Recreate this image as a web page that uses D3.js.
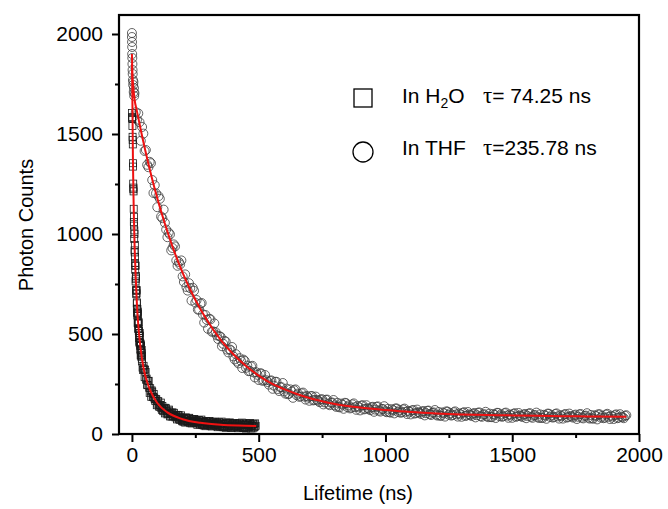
<!DOCTYPE html>
<html>
<head>
<meta charset="utf-8">
<script src="https://cdn.jsdelivr.net/npm/d3@7"></script>
<style>
  html, body { margin: 0; padding: 0; background: #fff; }
  svg text { font-family: "Liberation Sans", Arial, sans-serif; fill: #000; }
</style>
</head>
<body>
<svg id="chart" width="668" height="509"></svg>
<script>
/* Fluorescence decay, H2O vs THF */
var xTicks = [0, 500, 1000, 1500, 2000];
var yTicks = [0, 500, 1000, 1500, 2000];

// H2O: 0-40 ns on 1 ns channels (plus the half channels), then every 4 ns (two interleaved sets)
var h2oEarly = [1605, 1585, 1540, 1470, 1354, 1252, 1232, 1126, 1086, 975, 1001, 908, 886, 821, 840, 774, 782, 699, 704, 653,
  658, 593, 606, 612, 552, 526, 554, 514, 516, 461, 505, 457, 456, 422, 452, 416, 443, 386, 403, 376, 392];
var h2oEarlyB = [1580, 1575, 1486, 1448, 1337, 1224, 1213, 1060, 1042, 1018, 918, 945, 855, 844, 763, 790, 722, 715, 720, 627,
  606, 625, 555, 600, 564, 526, 559, 480, 497, 505, 454, 492, 440, 447, 393, 441, 393, 406, 420, 363];
var h2oLate = [320, 324, 322, 271, 245, 265, 231, 229, 186, 212, 186, 182, 165, 174, 152, 164, 135, 145, 129, 140,
  114, 125, 131, 107, 98, 117, 102, 107, 87, 108, 90, 93, 83, 96, 83, 95, 71, 83, 70, 81,
  62, 74, 83, 65, 61, 78, 66, 71, 53, 75, 59, 63, 54, 68, 57, 70, 47, 60, 49, 62,
  43, 56, 65, 48, 44, 62, 50, 56, 38, 61, 45, 50, 41, 56, 45, 59, 36, 50, 40, 52,
  34, 47, 57, 39, 36, 54, 43, 48, 31, 54, 39, 43, 35, 50, 40, 54, 32, 46, 35, 48,
  30, 43, 53, 36, 33, 51, 40, 45, 28, 51, 36, 41];
var h2oMid = [332, 341, 284, 310, 277, 244, 266, 205, 213, 218, 186, 200, 174, 174, 144, 163, 141, 146, 157, 121,
  118, 131, 103, 128, 114, 101, 122, 88, 100, 106, 88, 106, 89, 94, 73, 94, 76, 82, 93, 64,
  63, 78, 57, 81, 73, 63, 81, 54, 65, 72, 56, 75, 59, 65, 46, 68, 51, 58, 72, 44,
  45, 60, 39, 64, 56, 47, 65, 39, 50, 58, 42, 62, 46, 53, 34, 57, 40, 48, 62, 34,
  35, 51, 31, 55, 48, 39, 58, 31, 43, 51, 36, 55, 40, 47, 29, 52, 36, 44, 57, 30,
  31, 47, 27, 52, 45, 36, 55, 28, 40, 48, 33, 53];
var h2oFitT = [0, 1, 2, 3, 4, 6, 8, 11, 15, 20, 26, 33, 45, 60, 75, 100, 140, 200, 270, 350, 420, 490];
var h2oFitC = [1850, 1780, 1650, 1500, 1370, 1200, 1070, 920, 780, 640, 530, 440, 335, 260, 210, 155, 108, 74, 56, 46, 42, 40];

// THF: points near the peak, then every 10 ns from 10 (main) and from 15 (mid)
var thfEarlyT = [0, 0, 0.5, 1, 1, 1.5, 2, 2.5, 3, 4, 5, 6, 7, 8, 9];
var thfEarlyC = [2005, 1985, 1960, 1935, 1900, 1880, 1850, 1820, 1800, 1770, 1745, 1760, 1710, 1730, 1690];
var thfMain = [1704, 1572, 1559, 1535, 1415, 1346, 1361, 1270, 1244, 1134, 1176, 1079, 1056, 984, 998, 930, 938, 841, 848, 788,
  798, 717, 729, 731, 657, 622, 652, 598, 595, 526, 573, 513, 509, 475, 486, 451, 462, 408, 419, 388,
  399, 353, 366, 372, 331, 314, 337, 308, 309, 270, 303, 268, 269, 247, 268, 242, 261, 215, 234, 213,
  227, 201, 212, 219, 194, 186, 203, 187, 190, 166, 190, 170, 171, 159, 174, 158, 172, 144, 157, 143,
  156, 133, 147, 156, 134, 128, 148, 134, 140, 118, 144, 126, 129, 119, 136, 122, 138, 112, 125, 113,
  126, 107, 119, 128, 110, 106, 123, 111, 116, 98, 120, 105, 109, 100, 115, 104, 117, 95, 108, 97,
  110, 91, 104, 113, 96, 92, 109, 98, 103, 86, 109, 93, 98, 90, 105, 94, 108, 86, 99, 89,
  102, 84, 96, 106, 89, 86, 104, 92, 98, 81, 104, 89, 93, 85, 100, 90, 104, 81, 95, 85,
  98, 80, 92, 102, 85, 82, 100, 88, 94, 77, 100, 85, 90, 82, 97, 86, 100, 78, 92, 82,
  95, 77, 90, 99, 82, 79, 97, 86, 92, 75, 98, 82, 87, 79, 94];
var thfMid = [1609, 1603, 1466, 1502, 1420, 1334, 1354, 1205, 1203, 1189, 1087, 1122, 1022, 1007, 918, 948, 868, 860, 868, 760,
  735, 754, 667, 716, 670, 622, 655, 557, 571, 576, 511, 553, 493, 489, 439, 466, 422, 423, 435, 373,
  362, 379, 330, 365, 342, 315, 341, 283, 296, 303, 266, 295, 260, 266, 226, 261, 225, 234, 255, 202,
  199, 223, 181, 223, 202, 188, 207, 172, 182, 189, 168, 187, 166, 172, 148, 171, 150, 157, 170, 136,
  136, 152, 126, 154, 143, 132, 153, 121, 133, 142, 123, 144, 125, 133, 111, 136, 117, 125, 139, 109,
  109, 124, 103, 127, 119, 109, 127, 100, 111, 118, 102, 122, 106, 112, 93, 116, 99, 106, 120, 92,
  92, 108, 87, 112, 104, 95, 113, 87, 98, 106, 90, 110, 95, 101, 83, 106, 89, 97, 111, 84,
  85, 100, 80, 105, 98, 89, 107, 81, 93, 101, 86, 105, 90, 97, 79, 102, 86, 93, 107, 80,
  81, 96, 76, 101, 94, 85, 103, 77, 89, 97, 82, 102, 87, 93, 75, 98, 82, 90, 104, 77,
  78, 94, 73, 98, 91, 82, 101, 75, 87, 94, 79, 99, 84, 91];
var thfFitT = [0, 1, 2, 4, 10, 20, 40, 60, 80, 100, 130, 160, 200, 250, 300, 350, 400, 450, 500, 550, 600, 650, 700,
  750, 800, 850, 900, 1000, 1100, 1200, 1300, 1400, 1500, 1600, 1700, 1800, 1950];
var thfFitC = [1900, 1840, 1790, 1755, 1677, 1612, 1490, 1378, 1274, 1179, 1051, 937, 806, 671, 561, 471, 399, 340, 292, 253, 224, 200, 180,
  164, 150, 140, 132, 120, 110, 103, 98, 95, 93, 91, 89, 88, 86];

(function () {
  var L = 119, R = 639, T = 15, B = 434;
  var svg = d3.select('#chart');

  var x = d3.scaleLinear().domain([-51, 2000]).range([L, R]);
  var y = d3.scaleLinear().domain([0, 2095]).range([B, T]);

  function pairs(ts, cs) { return ts.map(function (t, i) { return [t, cs[i]]; }); }
  function grid(arr, t0, dt) { return arr.map(function (d, i) { return t0 + dt * i; }); }
  var h2oPts = pairs(grid(h2oEarly, 0, 1), h2oEarly)
    .concat(pairs(grid(h2oEarlyB, 0.5, 1), h2oEarlyB))
    .concat(pairs(grid(h2oLate, 44, 4), h2oLate))
    .concat(pairs(grid(h2oMid, 42, 4), h2oMid));
  var thfPts = pairs(thfEarlyT, thfEarlyC)
    .concat(pairs(grid(thfMain, 10, 10), thfMain))
    .concat(pairs(grid(thfMid, 15, 10), thfMid));

  // scatter
  svg.append('g').selectAll('circle').data(thfPts).enter().append('circle')
    .attr('cx', function (d) { return x(d[0]); }).attr('cy', function (d) { return y(d[1]); })
    .attr('r', 4.5).attr('fill', 'none').attr('stroke', '#3c3c3c').attr('stroke-width', 0.8);
  var s = 7;
  svg.append('g').selectAll('rect').data(h2oPts).enter().append('rect')
    .attr('x', function (d) { return x(d[0]) - s / 2; }).attr('y', function (d) { return y(d[1]) - s / 2; })
    .attr('width', s).attr('height', s).attr('fill', 'none').attr('stroke', '#1a1a1a').attr('stroke-width', 0.8);

  // fits
  var line = d3.line().x(function (d) { return x(d[0]); }).y(function (d) { return y(d[1]); }).curve(d3.curveMonotoneX);
  [pairs(thfFitT, thfFitC), pairs(h2oFitT, h2oFitC)].forEach(function (f) {
    svg.append('path').attr('d', line(f)).attr('fill', 'none').attr('stroke', '#ee1111').attr('stroke-width', 2);
  });

  // axes
  svg.append('g').attr('transform', 'translate(0,' + B + ')')
    .call(d3.axisBottom(x).tickValues(xTicks).tickSize(8).tickPadding(5).tickFormat(d3.format('d')));
  svg.append('g').attr('transform', 'translate(0,' + B + ')')
    .call(d3.axisBottom(x).tickValues([250, 750, 1250, 1750]).tickSize(4).tickFormat(''));
  svg.append('g').attr('transform', 'translate(' + L + ',0)')
    .call(d3.axisLeft(y).tickValues(yTicks).tickSize(7).tickPadding(9).tickFormat(d3.format('d')));
  svg.append('g').attr('transform', 'translate(' + L + ',0)')
    .call(d3.axisLeft(y).tickValues([250, 750, 1250, 1750]).tickSize(4).tickFormat(''));
  svg.selectAll('.domain').remove();
  svg.selectAll('.tick line').attr('stroke', '#000').attr('stroke-width', 2);
  svg.selectAll('.tick text').attr('font-size', 21).attr('font-family', '"Liberation Sans", Arial, sans-serif').attr('fill', '#000');

  svg.append('rect').attr('x', L).attr('y', T).attr('width', R - L).attr('height', B - T)
    .attr('fill', 'none').attr('stroke', '#000').attr('stroke-width', 2.2);

  svg.append('text').attr('x', 358).attr('y', 500).attr('text-anchor', 'middle').attr('font-size', 20).text('Lifetime (ns)');
  svg.append('text').attr('transform', 'translate(33,225) rotate(-90)').attr('text-anchor', 'middle').attr('font-size', 20).text('Photon Counts');

  // legend
  var lg = svg.append('g').attr('font-size', 21);
  lg.append('rect').attr('x', 354).attr('y', 89).attr('width', 18).attr('height', 18)
    .attr('fill', 'none').attr('stroke', '#000').attr('stroke-width', 1.3);
  lg.append('circle').attr('cx', 363).attr('cy', 152).attr('r', 10)
    .attr('fill', 'none').attr('stroke', '#000').attr('stroke-width', 1.3);
  var t1 = lg.append('text').attr('x', 402).attr('y', 103);
  t1.append('tspan').text('In H');
  t1.append('tspan').attr('font-size', 14).attr('dy', 5).text('2');
  t1.append('tspan').attr('dy', -5).text('O');
  lg.append('text').attr('x', 402).attr('y', 155).text('In THF');
  function tau(yy, rest) {
    var t = lg.append('text').attr('x', 483).attr('y', yy);
    t.append('tspan').attr('font-family', '"Liberation Serif", serif').attr('font-size', 23).text('\u03c4');
    t.append('tspan').text(rest);
  }
  tau(103, '= 74.25 ns');
  tau(155, '=235.78 ns');
})();
</script>
</body>
</html>
